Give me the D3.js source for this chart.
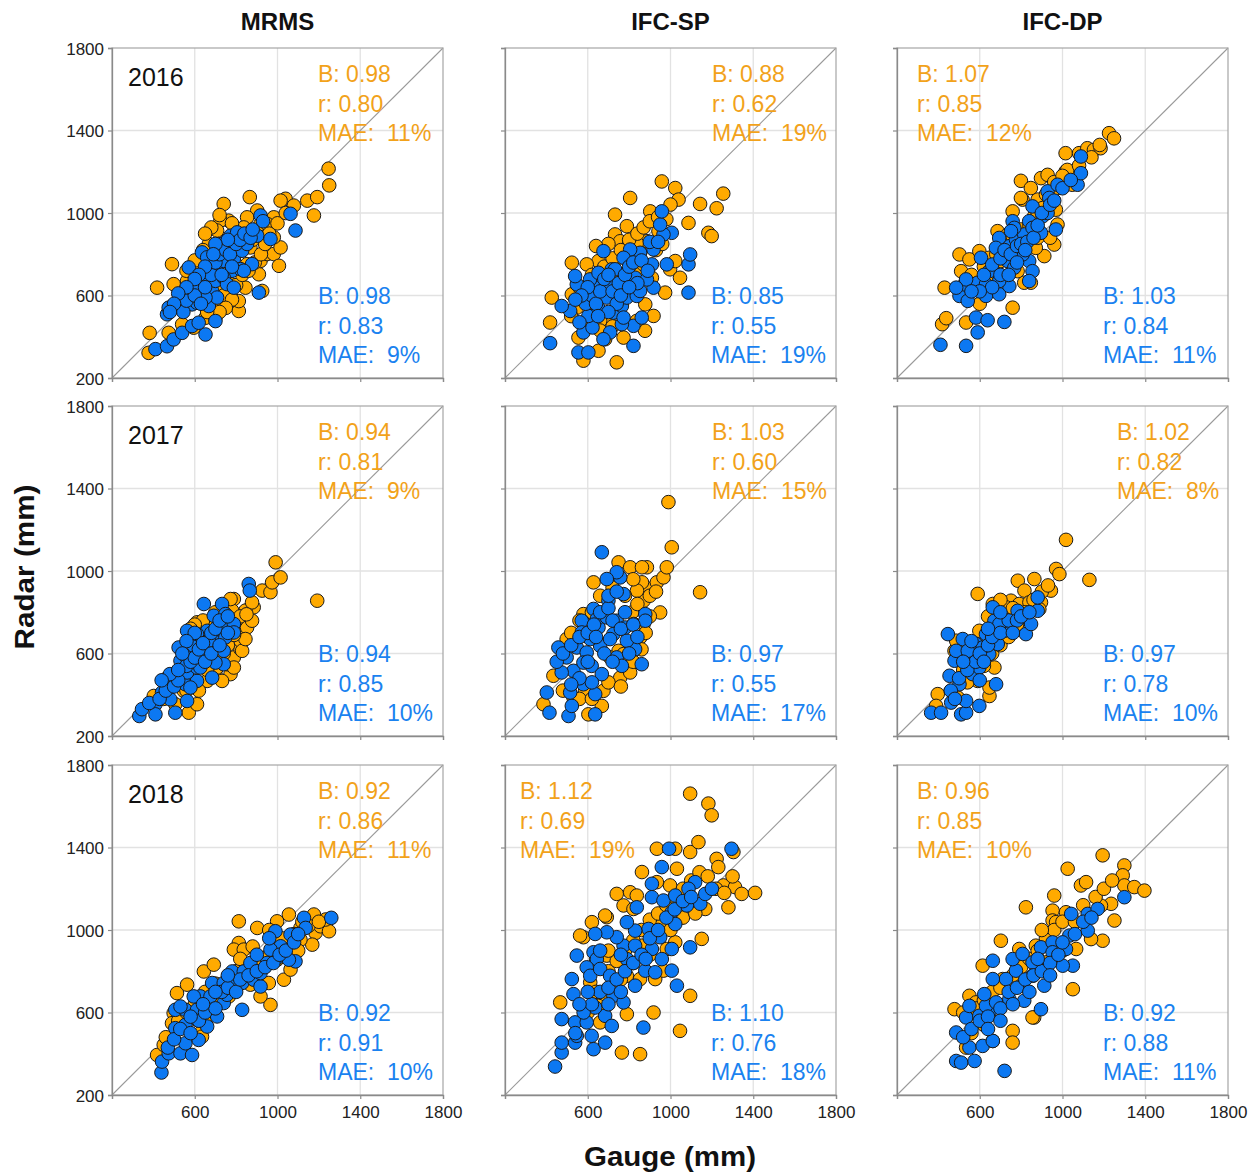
<!DOCTYPE html>
<html>
<head>
<meta charset="utf-8">
<script src="https://cdn.jsdelivr.net/npm/d3@7"></script>
<style>
  html, body { margin: 0; padding: 0; background: #fff; }
  svg text { font-family: "Liberation Sans", Arial, Helvetica, sans-serif; }
</style>
</head>
<body>
<svg id="chart" width="1259" height="1173"></svg>
<script>
// ---------------- DATA ----------------
const products = ["MRMS", "IFC-SP", "IFC-DP"];
const years = ["2016", "2017", "2018"];
const yTickValues = [200, 600, 1000, 1400, 1800];
const xTickLabels = [600, 1000, 1400, 1800];
const gridValues = [600, 1000, 1400];

// stats [B, r, MAE] per panel, row-major (year x product)
const orangeStats = [
  ["0.98", "0.80", "11%"], ["0.88", "0.62", "19%"], ["1.07", "0.85", "12%"],
  ["0.94", "0.81", "9%"],  ["1.03", "0.60", "15%"], ["1.02", "0.82", "8%"],
  ["0.92", "0.86", "11%"], ["1.12", "0.69", "19%"], ["0.96", "0.85", "10%"]
];
const blueStats = [
  ["0.98", "0.83", "9%"],  ["0.85", "0.55", "19%"], ["1.03", "0.84", "11%"],
  ["0.94", "0.85", "10%"], ["0.97", "0.55", "17%"], ["0.97", "0.78", "10%"],
  ["0.92", "0.91", "10%"], ["1.10", "0.76", "18%"], ["0.92", "0.88", "11%"]
];

// points: [gauge, radar]
const mrms2016Orange = [[377,322],[382,419],[418,638],[490,752],[498,655],[474,419],[539,460],[595,444],[652,492],[700,492],[756,557],[813,525],[813,573],[845,638],[910,703],[918,768],[950,801],[982,801],[1007,744],[1015,833],[982,882],[918,947],[902,1012],[982,979],[1039,1069],[1015,1060],[1079,1036],[1144,1060],[1192,1077],[1176,988],[1247,1215],[1250,1134],[866,1077],[740,1044],[764,963],[724,963],[708,915],[668,850],[627,752],[684,752],[853,752],[869,833],[773,655],[716,622],[926,622],[676,655],[563,671],[853,979],[950,947],[837,930],
  [700,560],[740,600],[780,580],[800,650],[830,700],[860,720],[890,760],[920,800],[940,850],[960,900],[1000,950],[1040,1000],[880,870],[860,900],[780,950],[720,990],[680,930],[650,900],[640,820],[600,770],[560,720],[750,540],[720,520],[660,520]];
const mrms2016Blue = [[410,340],[466,354],[498,387],[539,419],[587,452],[652,411],[619,468],[700,476],[466,509],[474,541],[522,557],[587,557],[668,549],[571,606],[595,638],[611,622],[684,622],[644,679],[700,671],[571,736],[635,809],[708,752],[740,768],[724,833],[756,866],[789,777],[781,720],[821,728],[829,817],[877,752],[853,850],[902,890],[773,890],[805,906],[918,988],[966,874],[1063,996],[1087,915],[910,614],[837,720],[676,720],[660,785],[740,687],[708,590],[652,590],[531,590],[611,565],[756,655],[789,638],[716,849],
  [545,520],[560,575],[600,600],[630,560],[650,640],[680,700],[700,760],[720,800],[750,820],[770,800],[800,850],[820,870],[840,900],[870,880],[760,870],[700,850],[690,800],[650,740],[620,700],[600,680],[560,640],[520,610],[500,560],[480,520],[880,920],[930,960],[780,740],[730,700]];

const sp2016Orange = [[418,469],[426,590],[523,759],[579,308],[579,284],[740,276],[652,332],[684,388],[877,429],[918,501],[837,477],[700,477],[547,541],[523,606],[652,767],[595,751],[748,783],[732,896],[789,936],[732,992],[805,1073],[902,1008],[958,1153],[1023,1121],[1039,1065],[1000,1041],[1143,1044],[1223,1023],[1255,1094],[1183,904],[1199,888],[1087,952],[998,727],[1046,686],[974,614],[910,686],[878,557],[853,727],[805,622],[757,863],[886,863],[942,912],[1023,767],[708,678],[611,557],[660,477],[773,396],[555,396],[853,807],[837,855],[789,831],
  [620,700],[680,740],[720,780],[760,820],[800,870],[840,900],[870,930],[900,960],[940,980],[980,970],[760,700],[830,780],[870,750],[930,820],[960,850],[700,850],[640,840],[560,640],[520,500],[600,480],[660,430],[720,450]];
const sp2016Blue = [[418,369],[555,324],[603,324],[579,421],[623,445],[708,421],[821,356],[821,453],[765,461],[861,493],[724,517],[515,525],[474,549],[603,501],[650,541],[603,590],[692,590],[765,549],[789,590],[837,598],[740,638],[652,638],[547,654],[611,678],[539,694],[652,710],[716,727],[773,678],[829,686],[918,638],[853,622],[886,678],[910,751],[982,751],[1087,614],[1087,751],[1095,799],[1006,904],[966,896],[950,944],[958,1008],[918,823],[853,807],[805,823],[773,783],[676,815],[732,727],[773,493],[676,388],[700,654],
  [560,470],[590,560],[620,600],[640,560],[660,620],[680,680],[700,700],[720,620],[750,660],[780,700],[800,740],[820,760],[860,770],[890,720],[840,660],[740,560],[700,520],[650,500],[600,640],[570,600],[540,580],[760,600],[800,640],[900,860],[940,860]];

const dp2016Orange = [[418,461],[438,490],[430,638],[502,799],[510,718],[534,469],[550,775],[598,815],[759,541],[799,1156],[807,1065],[896,1169],[928,1185],[1015,1290],[1015,1201],[1056,1177],[1080,1290],[1120,1314],[1152,1306],[1184,1314],[1225,1387],[1249,1362],[1023,1209],[1047,1137],[976,1121],[880,1065],[847,1121],[928,1040],[968,1016],[976,944],[960,847],[912,791],[847,662],[815,662],[783,718],[702,767],[686,912],[759,1008],[799,1073],[863,984],[904,1024],[735,896],[646,783],[654,702],[807,839],[871,831],
  [520,640],[560,700],[620,740],[680,800],[720,860],[760,880],[800,920],[840,940],[880,1000],[920,1090],[960,1150],[1000,1180],[1080,1230],[1140,1270],[1180,1330],[700,860],[640,660],[600,560],[880,880],[940,880]];
const dp2016Blue = [[410,361],[534,356],[590,421],[582,493],[638,480],[719,472],[502,598],[526,654],[590,662],[630,598],[606,783],[646,718],[694,606],[743,646],[735,767],[767,735],[743,839],[694,879],[775,871],[815,896],[839,767],[855,718],[807,799],[759,960],[839,960],[855,1032],[904,984],[928,1000],[896,904],[968,920],[928,1105],[976,1137],[1073,1137],[1089,1193],[1089,1274],[936,1073],[855,928],[767,928],[678,831],[534,678],[694,670],[839,670],[751,912],[630,654],[542,574],[486,638],
  [620,700],[660,750],[700,780],[720,820],[750,800],[780,840],[800,850],[830,860],[860,880],[880,940],[900,1000],[940,1040],[960,1060],[1000,1120],[1040,1160],[700,700],[660,640],[600,620],[560,620],[780,760],[820,820],[740,700]];

const mrms2017Orange = [[402,394],[402,354],[506,354],[571,313],[611,354],[587,459],[700,500],[773,500],[756,548],[789,581],[821,621],[821,662],[829,710],[853,726],[877,759],[885,824],[845,808],[877,848],[789,864],[781,808],[773,759],[611,751],[627,694],[668,678],[926,905],[966,897],[974,945],[991,1042],[1015,969],[1192,856],[829,613],[789,532],[708,532],[660,467],[845,670],[773,864],[732,467],[547,419],
  [450,380],[560,420],[620,420],[660,520],[700,560],[740,600],[760,640],[790,690],[800,760],[820,780],[850,790],[740,800],[700,800],[680,740],[640,760],[600,740],[580,720]];
const mrms2017Blue = [[332,297],[345,330],[410,354],[410,305],[506,313],[482,378],[563,370],[555,451],[458,475],[506,492],[611,467],[684,483],[563,508],[611,532],[531,565],[522,629],[555,589],[595,637],[644,597],[660,646],[700,662],[660,710],[668,662],[716,718],[740,613],[740,759],[756,735],[789,743],[748,678],[692,783],[644,840],[732,840],[748,791],[861,937],[866,905],[740,548],[627,532],[482,451],[442,411],[579,435],[700,556],[789,702],[611,694],[563,710],
  [380,360],[430,380],[460,420],[500,440],[520,470],[560,540],[580,560],[600,580],[620,620],[640,650],[680,700],[700,720],[720,760],[760,780],[600,700],[560,660],[540,600],[480,500],[440,470],[520,520],[650,560],[680,600],[720,640],[760,700]];

const sp2017Orange = [[386,354],[434,492],[498,670],[603,305],[668,346],[587,419],[757,483],[805,508],[749,613],[854,678],[870,743],[950,799],[870,856],[878,921],[862,945],[838,905],[886,1018],[934,945],[966,969],[982,1018],[1006,1115],[990,1334],[1143,897],[749,1042],[805,1018],[862,1018],[628,945],[579,791],[660,791],[814,799],[822,743],[708,581],[676,419],[531,386],[773,597],
  [480,420],[560,380],[620,380],[700,460],[760,440],[820,560],[860,620],[880,700],[900,780],[840,840],[780,880],[720,920],[660,880],[620,800],[560,760],[520,700],[900,880],[930,900],[820,960]];
const sp2017Blue = [[402,411],[415,313],[507,297],[523,346],[636,305],[636,403],[579,451],[531,516],[474,508],[458,629],[498,581],[547,629],[595,605],[619,540],[668,500],[740,581],[765,540],[861,548],[829,621],[789,662],[724,694],[660,637],[652,726],[571,759],[571,702],[628,816],[644,767],[692,775],[700,856],[740,759],[781,726],[773,888],[757,969],[740,994],[692,961],[668,1091],[878,791],[878,759],[708,670],[612,670],[515,411],[579,556],
  [450,560],[480,600],[520,640],[560,680],[600,700],[630,740],[660,800],[700,820],[720,760],[760,720],[780,800],[820,740],[840,680],[600,560],[620,460],[560,480],[520,450],[680,600],[720,560],[800,600],[640,680],[700,880],[740,900]];

const dp2017Orange = [[397,403],[389,346],[494,386],[647,394],[590,889],[784,953],[864,961],[816,905],[751,856],[791,840],[840,848],[896,848],[944,905],[969,1010],[985,985],[1017,1151],[1130,957],[888,815],[695,678],[598,710],[478,613],[671,532],[590,467],[647,435],[486,662],[727,824],[663,840],[808,775],
  [540,460],[580,500],[620,540],[660,600],[700,640],[740,680],[780,740],[820,800],[860,860],[900,900],[930,930],[760,820],[700,860],[640,780],[560,560],[520,520],[600,640]];
const dp2017Blue = [[365,313],[413,313],[462,362],[510,305],[534,313],[534,370],[598,346],[502,451],[454,492],[534,565],[478,565],[679,451],[566,500],[598,532],[574,597],[646,597],[582,646],[446,694],[518,670],[687,646],[671,759],[630,694],[719,710],[735,726],[663,824],[719,759],[759,759],[823,694],[783,807],[848,743],[880,807],[880,872],[695,743],[486,613],[542,613],[614,629],
  [460,420],[500,480],[540,520],[580,560],[600,600],[640,640],[660,680],[700,700],[740,760],[780,760],[800,780],[840,800],[620,560],[560,660],[520,560],[640,720],[700,800],[760,700],[600,470],[480,380]];

const mrms2018Orange = [[418,394],[450,443],[498,597],[514,694],[563,735],[644,799],[692,832],[813,1042],[902,1010],[813,937],[789,905],[966,637],[918,678],[958,743],[1031,759],[1063,808],[998,1042],[1055,1075],[1111,1010],[1176,1075],[1184,986],[1168,929],[1208,1018],[1249,994],[1233,1051],[1111,953],[1047,872],[998,856],[869,735],[765,678],[627,500],[708,662],[660,581],[490,548],[635,483],[837,905],[934,856],[692,710],
  [460,480],[520,560],[560,600],[600,640],[650,700],[700,740],[760,760],[800,800],[860,820],[900,860],[960,880],[1000,920],[1040,940],[1080,980],[1120,1040],[1150,1020],[1200,1040],[1100,900],[1020,960],[960,1000],[880,920],[820,860]];
const mrms2018Blue = [[439,309],[442,362],[474,402],[531,402],[587,394],[555,451],[619,467],[506,524],[555,540],[611,565],[660,532],[708,581],[506,613],[555,613],[611,613],[660,629],[627,678],[676,678],[740,646],[829,613],[756,686],[684,743],[740,743],[781,799],[837,799],[829,743],[885,759],[918,726],[869,840],[918,791],[950,840],[998,864],[1015,921],[990,994],[1063,978],[1087,848],[1055,856],[1128,1059],[1136,1010],[1260,1059],[789,743],[595,678],[531,629],[966,905],
  [470,430],[500,470],[530,520],[580,500],[620,560],[650,600],[700,620],[730,700],[760,720],[800,700],[820,760],[860,780],[900,800],[940,820],[980,840],[1010,880],[1040,900],[1080,940],[1100,980],[700,700],[640,640],[580,580],[760,780],[900,880],[960,960]];

const sp2018Orange = [[467,649],[579,965],[620,1038],[692,1062],[692,876],[676,665],[660,552],[652,632],[765,406],[853,398],[789,592],[918,600],[1046,511],[853,762],[926,762],[1151,957],[740,1175],[805,1183],[862,1281],[934,1394],[1023,1394],[1095,1378],[1135,1426],[1095,1661],[1183,1613],[1199,1556],[1223,1345],[1231,1305],[1256,1216],[1304,1378],[1312,1208],[1344,1175],[1409,1180],[1280,1110],[1168,1102],[1031,1297],[998,1216],[934,1232],[837,1167],[773,1119],[684,1070],[563,973],[821,1102],[950,1038],[1023,940],[862,924],[789,778],[1095,681],[966,803],[982,908],[612,746],[740,714],
  [600,600],[640,700],[700,800],[740,850],[780,900],[820,950],[860,1000],[900,1050],[940,1080],[980,1120],[1020,1160],[1060,1200],[1100,1240],[1140,1280],[1180,1260],[1220,1200],[1260,1180],[1300,1260],[1000,1000],[900,880],[820,840],[760,760],[700,900],[640,860],[1060,1060],[1120,1080]];
const sp2018Blue = [[442,338],[474,406],[474,454],[539,454],[547,487],[474,568],[539,552],[595,552],[619,487],[628,422],[684,454],[684,584],[716,535],[636,624],[724,681],[773,649],[869,527],[829,730],[878,803],[926,795],[1006,803],[1031,730],[958,859],[1006,908],[1095,916],[950,965],[910,908],[894,1005],[829,997],[789,1038],[789,859],[773,924],[740,965],[692,989],[636,981],[628,892],[644,859],[595,819],[547,876],[523,762],[531,689],[612,778],[660,811],[708,778],[829,924],[837,1110],[910,1224],[958,1305],[910,1159],[966,1143],[1023,1167],[1006,1086],[1079,1119],[1119,1232],[1144,1127],[1168,1175],[1295,1394],[993,1394],[1087,1200],[1023,1029],
  [540,500],[580,600],[620,640],[660,700],[700,720],[740,760],[780,800],[820,840],[860,880],[900,960],[940,1000],[980,1060],[1020,1100],[1060,1140],[1100,1160],[1200,1200],[700,640],[760,700],[880,860],[760,880],[660,900],[600,700],[560,640]];

const dp2018Orange = [[478,616],[534,430],[663,462],[759,511],[759,454],[863,576],[614,827],[702,948],[823,1110],[960,1167],[952,1094],[952,1046],[1025,1297],[1089,1216],[1114,1232],[1194,1362],[1299,1313],[1291,1265],[1299,1216],[1347,1208],[1396,1191],[1251,1046],[1194,948],[1138,956],[1235,1127],[1186,1118],[1050,713],[1066,908],[920,843],[855,576],[743,713],[550,681],[582,649],[791,908],[871,924],[711,762],[969,1038],[1017,1086],
  [520,600],[580,620],[620,660],[660,700],[700,720],[760,780],[800,820],[840,860],[880,900],[920,960],[960,1000],[1000,1040],[1060,1040],[1100,1120],[1160,1160],[1200,1200],[1240,1240],[680,640],[620,540],[560,500],[900,1000],[1000,900]];
const dp2018Blue = [[486,365],[510,357],[575,365],[720,317],[550,430],[614,438],[663,462],[486,503],[534,576],[598,584],[647,600],[550,632],[630,632],[679,649],[622,689],[743,665],[815,657],[896,616],[727,762],[775,803],[663,762],[663,851],[759,859],[807,884],[807,730],[855,843],[920,811],[912,730],[896,916],[952,940],[969,859],[1017,908],[1033,973],[1050,827],[1001,827],[952,892],[1042,1078],[1122,1078],[1122,997],[1170,1102],[1299,1159],[855,778],
  [520,480],[560,520],[600,560],[640,580],[700,620],[740,700],[780,720],[820,760],[860,780],[900,800],[940,840],[980,880],[1000,940],[1060,980],[1100,1040],[1140,1060],[700,560],[640,520],[760,640],[840,700],[940,780],[880,860]];

const orangeSeries = [mrms2016Orange, sp2016Orange, dp2016Orange, mrms2017Orange, sp2017Orange, dp2017Orange, mrms2018Orange, sp2018Orange, dp2018Orange];
const blueSeries = [mrms2016Blue, sp2016Blue, dp2016Blue, mrms2017Blue, sp2017Blue, dp2017Blue, mrms2018Blue, sp2018Blue, dp2018Blue];

// ---------------- LAYOUT ----------------
const colLeft = [112, 505, 897];
const rowTop = [48, 406, 765];
const panelW = 331, panelH = 330;
const orangeTextDx = [206, 207, 20, 206, 207, 220, 206, 15, 20];
const blueTextDx = 206;

const ORANGE = "#FFAA00", BLUE = "#0C78F2";
const ORANGE_TXT = "#F2A21A", BLUE_TXT = "#1A82F0";

const svg = d3.select("#chart");

const x = d3.scaleLinear().domain([200, 1800]).range([0, panelW]);
const y = d3.scaleLinear().domain([200, 1800]).range([panelH, 0]);

years.forEach((yr, ri) => {
  products.forEach((prod, ci) => {
    const idx = ri * 3 + ci;
    const g = svg.append("g").attr("transform", `translate(${colLeft[ci]},${rowTop[ri]})`);

    g.append("g").selectAll("line").data(gridValues).join("line")
      .attr("x1", d => x(d)).attr("x2", d => x(d)).attr("y1", 0).attr("y2", panelH)
      .attr("stroke", "#e2e2e2").attr("stroke-width", 1.3);
    g.append("g").selectAll("line").data(gridValues).join("line")
      .attr("y1", d => y(d)).attr("y2", d => y(d)).attr("x1", 0).attr("x2", panelW)
      .attr("stroke", "#e2e2e2").attr("stroke-width", 1.3);

    g.append("line")
      .attr("x1", x(200)).attr("y1", y(200)).attr("x2", x(1800)).attr("y2", y(1800))
      .attr("stroke", "#9a9a9a").attr("stroke-width", 1.1);

    g.append("rect").attr("x", 0).attr("y", 0).attr("width", panelW).attr("height", panelH)
      .attr("fill", "none").attr("stroke", "#a6a6a6").attr("stroke-width", 1.2);

    const yAxis = d3.axisLeft(y).tickValues(yTickValues).tickSize(4)
      .tickFormat(ci === 0 ? d3.format("d") : "");
    const xAxis = d3.axisBottom(x).tickValues(yTickValues).tickSize(4)
      .tickFormat(d => (ri === 2 && xTickLabels.includes(d)) ? d3.format("d")(d) : "");
    const ya = g.append("g").call(yAxis);
    const xa = g.append("g").attr("transform", `translate(0,${panelH})`).call(xAxis);
    [ya, xa].forEach(a => {
      a.select(".domain").attr("stroke", "#8a8a8a").attr("stroke-width", 1.3);
      a.selectAll(".tick line").attr("stroke", "#8a8a8a").attr("stroke-width", 1.2);
      a.selectAll(".tick text").attr("fill", "#222").attr("font-size", 17)
        .attr("font-family", "'Liberation Sans', Arial, sans-serif");
    });
    ya.selectAll(".tick text").attr("x", -8).attr("dy", "0.36em");
    xa.selectAll(".tick text").attr("y", 11).attr("dy", "0.71em");

    g.append("g").selectAll("circle").data(orangeSeries[idx]).join("circle")
      .attr("cx", d => x(d[0])).attr("cy", d => y(d[1])).attr("r", 6.8)
      .attr("fill", ORANGE).attr("stroke", "#1a1a1a").attr("stroke-width", 1);
    g.append("g").selectAll("circle").data(blueSeries[idx]).join("circle")
      .attr("cx", d => x(d[0])).attr("cy", d => y(d[1])).attr("r", 6.8)
      .attr("fill", BLUE).attr("stroke", "#1a1a1a").attr("stroke-width", 1);

    if (ci === 0) {
      g.append("text").attr("x", 16).attr("y", 38).attr("font-size", 25)
        .attr("fill", "#111").text(yr);
    }

    const os = orangeStats[idx], bs = blueStats[idx];
    const oLines = ["B: " + os[0], "r: " + os[1], "MAE:  " + os[2]];
    const bLines = ["B: " + bs[0], "r: " + bs[1], "MAE:  " + bs[2]];
    g.append("g").selectAll("text").data(oLines).join("text")
      .attr("x", orangeTextDx[idx]).attr("y", (d, i) => 34 + i * 29.5)
      .attr("font-size", 23).attr("fill", ORANGE_TXT).style("white-space", "pre")
      .attr("xml:space", "preserve").text(d => d);
    g.append("g").selectAll("text").data(bLines).join("text")
      .attr("x", blueTextDx).attr("y", (d, i) => panelH - 74 + i * 29.5)
      .attr("font-size", 23).attr("fill", BLUE_TXT).style("white-space", "pre")
      .attr("xml:space", "preserve").text(d => d);
  });
});

svg.append("g").selectAll("text").data(products).join("text")
  .attr("x", (d, i) => colLeft[i] + panelW / 2).attr("y", 30)
  .attr("text-anchor", "middle").attr("font-size", 24).attr("font-weight", "bold")
  .attr("fill", "#111").text(d => d);

svg.append("text").attr("x", 670).attr("y", 1166).attr("text-anchor", "middle")
  .attr("font-size", 27).attr("font-weight", "bold").attr("fill", "#111")
  .attr("textLength", 172).attr("lengthAdjust", "spacingAndGlyphs").text("Gauge (mm)");
svg.append("text").attr("transform", "translate(34,567) rotate(-90)").attr("text-anchor", "middle")
  .attr("font-size", 27).attr("font-weight", "bold").attr("fill", "#111")
  .attr("textLength", 165).attr("lengthAdjust", "spacingAndGlyphs").text("Radar (mm)");
</script>
</body>
</html>
